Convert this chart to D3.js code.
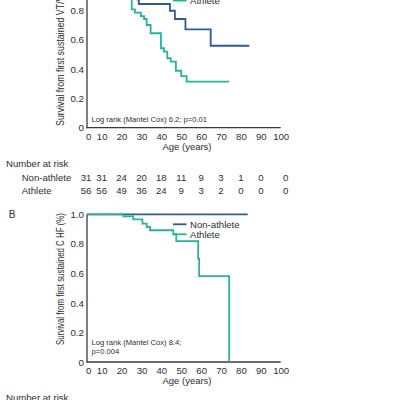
<!DOCTYPE html>
<html><head><meta charset="utf-8">
<script src="https://cdn.jsdelivr.net/npm/d3@7/dist/d3.min.js"></script>
<style>html,body{margin:0;padding:0;background:#fff;}svg{display:block;font-family:"Liberation Sans",Arial,sans-serif;}</style>
</head><body><svg id="c" width="400" height="400"></svg>
<script>
// ---- data ----
const xTicks = [0,10,20,30,40,50,60,70,80,90,100];
const yTicks = [0,0.2,0.4,0.6,0.8,1.0];
const seriesNames = ["Non-athlete","Athlete"];
const riskAges = [0,10,20,30,40,50,60,70,80,90,100];
const riskNonAthleteA = [31,31,24,20,18,11,9,3,1,0,0];
const riskAthleteA = [56,56,49,36,24,9,3,2,0,0,0];

const nonAthleteA_age  = [0,20,24,27,28,28.7,44.3,46.8,52.1,64.8,84.2];
const nonAthleteA_surv = [1,0.968,0.935,0.903,0.871,0.841,0.795,0.739,0.669,0.557,0.557];
const athleteA_age  = [0,15,18,20,23,25.1,26.7,29.7,31.3,32.6,34.6,39.8,41.3,43.0,44.7,47.3,50.0,52.7,74.0];
const athleteA_surv = [1,0.982,0.964,0.946,0.91,0.805,0.782,0.759,0.739,0.698,0.642,0.54,0.517,0.472,0.449,0.387,0.351,0.313,0.313];

const nonAthleteB_age  = [0,83.4];
const nonAthleteB_surv = [1,1];
const athleteB_age  = [0,20.9,25.9,30.5,32.6,34.3,46.0,47.5,58.5,59.0,74.1];
const athleteB_surv = [1,0.986,0.966,0.937,0.914,0.892,0.865,0.818,0.70,0.581,0];

const logRankA = ["Log rank (Mantel Cox) 6.2; p=0.01"];
const logRankB = ["Log rank (Mantel Cox) 8.4;","p=0.004"];
const yTitleA = "Survival from first sustained VT/VF (%)";
const yTitleB = "Survival from first sustained C HF (%)";

// ---- drawing ----
const svg = d3.select("#c");
const colors = {"Non-athlete":"#2d5a9b","Athlete":"#27b49b"};
const axisX = 87;
const x = d3.scaleLinear().domain([0,100]).range([81.8,280.7]);
const textCol = "#2e2e2e";

svg.append("clipPath").attr("id","clip").append("rect")
  .attr("x",axisX).attr("y",-40).attr("width",260).attr("height",420);

function panel(cfg){
  const y = d3.scaleLinear().domain([0,1]).range([cfg.y0,cfg.y1]);
  const g = svg.append("g");
  g.append("line").attr("x1",axisX).attr("x2",axisX).attr("y1",y(1)).attr("y2",y(0)+0.6)
    .attr("stroke","#3a3a3a").attr("stroke-width",1.3);
  g.append("line").attr("x1",axisX-0.6).attr("x2",x(100)).attr("y1",y(0)).attr("y2",y(0))
    .attr("stroke","#3a3a3a").attr("stroke-width",1.3);
  const ya = d3.axisLeft(y).tickValues(yTicks).tickSize(0).tickPadding(0)
    .tickFormat(d=> d===0 ? "0" : d3.format(".1f")(d));
  const yg = g.append("g").attr("transform",`translate(84,0)`).call(ya);
  yg.select(".domain").remove();
  yg.selectAll("text").attr("font-size",9.8).attr("fill",textCol).attr("font-family",null);
  const xa = d3.axisBottom(x).tickValues(xTicks).tickSize(0).tickPadding(0).tickFormat(d3.format("d"));
  const xg = g.append("g").attr("transform",`translate(0,${y(0)+5})`).call(xa);
  xg.select(".domain").remove();
  xg.selectAll("text").attr("font-size",9.6).attr("fill",textCol).attr("font-family",null)
    .attr("dx",d=> d===0 ? 6.3 : 0);
  g.append("text").attr("x",187).attr("y",y(0)+22.3).attr("text-anchor","middle")
    .attr("font-size",9.5).attr("fill",textCol).text("Age (years)");
  g.append("text").attr("transform",`translate(63.5,${cfg.titleStart}) rotate(-90)`)
    .attr("font-size",10.4).attr("fill",textCol)
    .attr("textLength",cfg.titleLen).attr("lengthAdjust","spacingAndGlyphs").text(cfg.title);
  const line = d3.line().x(d=>x(d[0])).y(d=>y(d[1])).curve(d3.curveStepAfter);
  cfg.series.forEach(s=>{
    g.append("path").datum(d3.zip(s.age,s.surv)).attr("d",line)
      .attr("clip-path","url(#clip)")
      .attr("fill","none").attr("stroke",colors[s.name]).attr("stroke-width",1.8);
  });
  seriesNames.forEach((n,i)=>{
    const ly = y(1)+10+10*i;
    g.append("line").attr("x1",173).attr("x2",186.5).attr("y1",ly).attr("y2",ly)
      .attr("stroke",colors[n]).attr("stroke-width",1.8);
    g.append("text").attr("x",190).attr("y",ly).attr("dy","0.35em")
      .attr("font-size",9.6).attr("fill",textCol).text(n);
  });
  cfg.logRank.forEach((t,i)=>{
    g.append("text").attr("x",91.5).attr("y",cfg.logY+9*i).attr("dy","0.35em")
      .attr("font-size",7.6).attr("fill",textCol).text(t);
  });
  g.append("text").attr("x",6).attr("y",y(0)+35.6).attr("dy","0.35em")
    .attr("font-size",9.6).attr("fill",textCol).text("Number at risk");
  cfg.risk.forEach((row,i)=>{
    const ry = y(0)+49.6+13.4*i;
    g.append("text").attr("x",21.7).attr("y",ry).attr("dy","0.35em")
      .attr("font-size",9.6).attr("fill",textCol).text(row.name);
    g.selectAll(null).data(d3.zip(riskAges,row.vals)).join("text")
      .attr("x",d=> x(d[0]) + (d[0]===0 ? 4.2 : d[0]===100 ? 5 : 0))
      .attr("y",ry).attr("dy","0.35em").attr("text-anchor","middle")
      .attr("font-size",9.6).attr("fill",textCol).text(d=>d[1]);
  });
}

panel({y0:127.7,y1:-19.4,title:yTitleA,titleStart:126,titleLen:152,logRank:logRankA,logY:119.3,
  series:[{name:"Non-athlete",age:nonAthleteA_age,surv:nonAthleteA_surv},
          {name:"Athlete",age:athleteA_age,surv:athleteA_surv}],
  risk:[{name:"Non-athlete",vals:riskNonAthleteA},{name:"Athlete",vals:riskAthleteA}]});

panel({y0:362,y1:214.3,title:yTitleB,titleStart:345,titleLen:132,logRank:logRankB,logY:342.7,
  series:[{name:"Non-athlete",age:nonAthleteB_age,surv:nonAthleteB_surv},
          {name:"Athlete",age:athleteB_age,surv:athleteB_surv}],
  risk:[]});

svg.append("text").attr("x",12).attr("y",214).attr("dy","0.35em").attr("text-anchor","middle")
  .attr("font-size",10).attr("fill",textCol).text("B");
</script></body></html>
